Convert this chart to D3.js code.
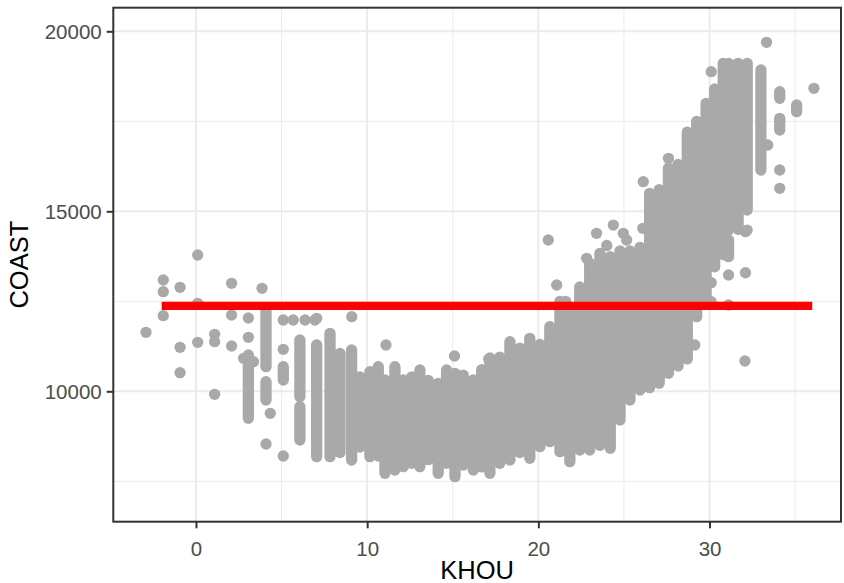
<!DOCTYPE html>
<html>
<head>
<meta charset="utf-8">
<script src="https://cdn.jsdelivr.net/npm/d3@7"></script>
<style>
  body { margin: 0; background: #fff; }
  svg { display: block; font-family: "Liberation Sans", Arial, Helvetica, sans-serif; }
</style>
</head>
<body>
<div id="chart"></div>
<script>
/* COAST load vs KHOU temperature, ggplot theme_bw look */

const xTicks = [0, 10, 20, 30];
const xMinor = [5, 15, 25, 35];
const yTicks = [10000, 15000, 20000];
const yMinor = [7500, 12500, 17500];

// vertical runs of overlapping dots: [KHOU, COAST low, COAST high]
const runs = [
  [3.06, 9250, 11008], [4.09, 10683, 12253], [4.09, 9758, 10267],
  [5.1, 10314, 10683], [6.07, 9850, 11425], [6.07, 8647, 9572],
  [7.05, 8183, 11286], [7.83, 8183, 11611], [8.41, 8300, 11050],
  [9.09, 8092, 11147], [9.58, 8450, 10400], [10.16, 8183, 10544],
  [10.65, 8200, 10683], [11.04, 7722, 10314], [11.62, 7814, 10683],
  [12.11, 7906, 10314], [12.6, 8000, 10400], [13.08, 7906, 10592],
  [13.57, 8100, 10300], [14.15, 7722, 10222], [14.64, 8000, 10592],
  [15.13, 7628, 10500], [15.61, 7950, 10450], [16.2, 7814, 10314],
  [16.69, 7900, 10600], [17.17, 7722, 10925], [17.75, 8000, 10950],
  [18.34, 8092, 11378], [18.92, 8300, 11200], [19.5, 8139, 11472],
  [20.09, 8462, 11300], [20.67, 8600, 11795], [21.26, 8322, 12500],
  [21.84, 8044, 12200], [22.42, 8370, 12900], [23.0, 8370, 13550],
  [23.6, 8500, 13833], [24.2, 8417, 13740], [24.77, 9200, 13900],
  [25.35, 9758, 13900], [25.94, 10036, 14000], [26.5, 10100, 15500],
  [27.06, 10222, 15600], [27.6, 10500, 16200], [28.16, 10700, 16300],
  [28.7, 10900, 17200], [29.25, 12072, 17500], [29.8, 12600, 18000],
  [30.3, 13460, 18400], [30.8, 13800, 19110], [31.11, 14481, 19110],
  [31.11, 13740, 14203], [31.67, 14500, 19110], [32.2, 15037, 19110],
  [33.0, 16147, 18925], [34.1, 18139, 18322], [34.1, 17258, 17583],
  [35.09, 17767, 17953]
];

// isolated dots: [KHOU, COAST]
const points = [
  [-2.92, 11639], [-1.91, 13092], [-1.91, 12767], [-1.91, 12100],
  [-0.93, 12889], [-0.93, 11222], [-0.93, 10517], [0.1, 13786],
  [0.1, 12444], [0.1, 11361], [1.09, 11583], [1.09, 11378],
  [1.09, 9917], [2.08, 13000], [2.08, 12119], [2.08, 11258],
  [2.78, 10917], [3.36, 10822], [3.06, 11500], [3.06, 12036],
  [3.86, 12861], [4.34, 9389], [4.09, 8536], [5.1, 11167],
  [5.1, 8203], [5.1, 11981], [5.68, 11981], [6.37, 11981],
  [6.95, 11981], [7.05, 12028], [9.1, 12072], [11.1, 11286],
  [15.1, 10981], [17.1, 10889], [20.58, 14203], [21.07, 12953],
  [21.6, 12500], [22.82, 13694], [23.0, 13555], [23.4, 14389],
  [24.0, 14050], [24.38, 14619], [24.96, 14389], [25.16, 14203],
  [26.1, 14528], [26.13, 15822], [27.6, 16472], [29.14, 11286],
  [30.1, 18879], [30.1, 13018], [30.1, 12490], [31.11, 13231],
  [31.11, 12397], [32.2, 14480], [32.1, 14433], [32.1, 13294],
  [32.07, 10842], [33.33, 19694], [33.4, 16842], [34.1, 16147],
  [34.1, 15639], [36.1, 18417]
];

// fitted constant model
const fitX = [-2, 36];
const fitY = [12375, 12375];

const W = 844, H = 583;
const P = { left: 113.3, right: 841, top: 7.7, bottom: 521.7 };
const GREY = '#A9A9A9';
const R = 5.65;

const x = d3.scaleLinear().domain([-4.83, 37.68]).range([P.left, P.right]);
const y = d3.scaleLinear().domain([6378, 20656]).range([P.bottom, P.top]);

const svg = d3.select('#chart').append('svg')
  .attr('width', W).attr('height', H).attr('viewBox', `0 0 ${W} ${H}`);

svg.append('rect').attr('x', P.left).attr('y', P.top)
  .attr('width', P.right - P.left).attr('height', P.bottom - P.top).attr('fill', '#fff');

/* grid */
const grid = svg.append('g');
grid.selectAll('.vmin').data(xMinor).join('line')
  .attr('x1', d => x(d)).attr('x2', d => x(d)).attr('y1', P.top).attr('y2', P.bottom)
  .attr('stroke', '#EBEBEB').attr('stroke-width', 1);
grid.selectAll('.hmin').data(yMinor).join('line')
  .attr('y1', d => y(d)).attr('y2', d => y(d)).attr('x1', P.left).attr('x2', P.right)
  .attr('stroke', '#EBEBEB').attr('stroke-width', 1);
grid.selectAll('.vmaj').data(xTicks).join('line')
  .attr('x1', d => x(d)).attr('x2', d => x(d)).attr('y1', P.top).attr('y2', P.bottom)
  .attr('stroke', '#EBEBEB').attr('stroke-width', 2);
grid.selectAll('.hmaj').data(yTicks).join('line')
  .attr('y1', d => y(d)).attr('y2', d => y(d)).attr('x1', P.left).attr('x2', P.right)
  .attr('stroke', '#EBEBEB').attr('stroke-width', 2);

/* data */
const marks = svg.append('g');
marks.selectAll('line').data(runs).join('line')
  .attr('x1', d => x(d[0])).attr('x2', d => x(d[0]))
  .attr('y1', d => y(d[1])).attr('y2', d => y(d[2]))
  .attr('stroke', GREY).attr('stroke-width', R * 2).attr('stroke-linecap', 'round');
marks.selectAll('circle').data(points).join('circle')
  .attr('cx', d => x(d[0])).attr('cy', d => y(d[1])).attr('r', R).attr('fill', GREY);

svg.append('path')
  .datum(fitX.map((v, i) => [v, fitY[i]]))
  .attr('d', d3.line().x(d => x(d[0])).y(d => y(d[1])))
  .attr('stroke', '#FF0000').attr('stroke-width', 8.3).attr('fill', 'none');

/* border */
svg.append('rect').attr('x', P.left).attr('y', P.top)
  .attr('width', P.right - P.left).attr('height', P.bottom - P.top)
  .attr('fill', 'none').attr('stroke', '#333333').attr('stroke-width', 2);

/* axes */
const xa = svg.append('g').attr('transform', `translate(0,${P.bottom})`)
  .call(d3.axisBottom(x).tickValues(xTicks).tickSize(6.6).tickPadding(6).tickFormat(d3.format('d')));
const ya = svg.append('g').attr('transform', `translate(${P.left},0)`)
  .call(d3.axisLeft(y).tickValues(yTicks).tickSize(6.6).tickPadding(5).tickFormat(d3.format('d')));
[xa, ya].forEach(g => {
  g.select('.domain').remove();
  g.selectAll('.tick line').attr('stroke', '#333333').attr('stroke-width', 2);
  g.selectAll('.tick text').attr('fill', '#4D4D4D').attr('font-size', 20.5);
});
xa.selectAll('.tick text').attr('dy', null).attr('y', 34).attr('dominant-baseline', 'alphabetic');
ya.selectAll('.tick text').attr('dy', '0.36em');

svg.append('text').attr('x', (P.left + P.right) / 2).attr('y', 579)
  .attr('text-anchor', 'middle').attr('font-size', 25.5).attr('fill', '#000').text('KHOU');
svg.append('text')
  .attr('transform', `translate(28,${(P.top + P.bottom) / 2}) rotate(-90)`)
  .attr('text-anchor', 'middle').attr('font-size', 25.5).attr('fill', '#000').text('COAST');
</script>
</body>
</html>
